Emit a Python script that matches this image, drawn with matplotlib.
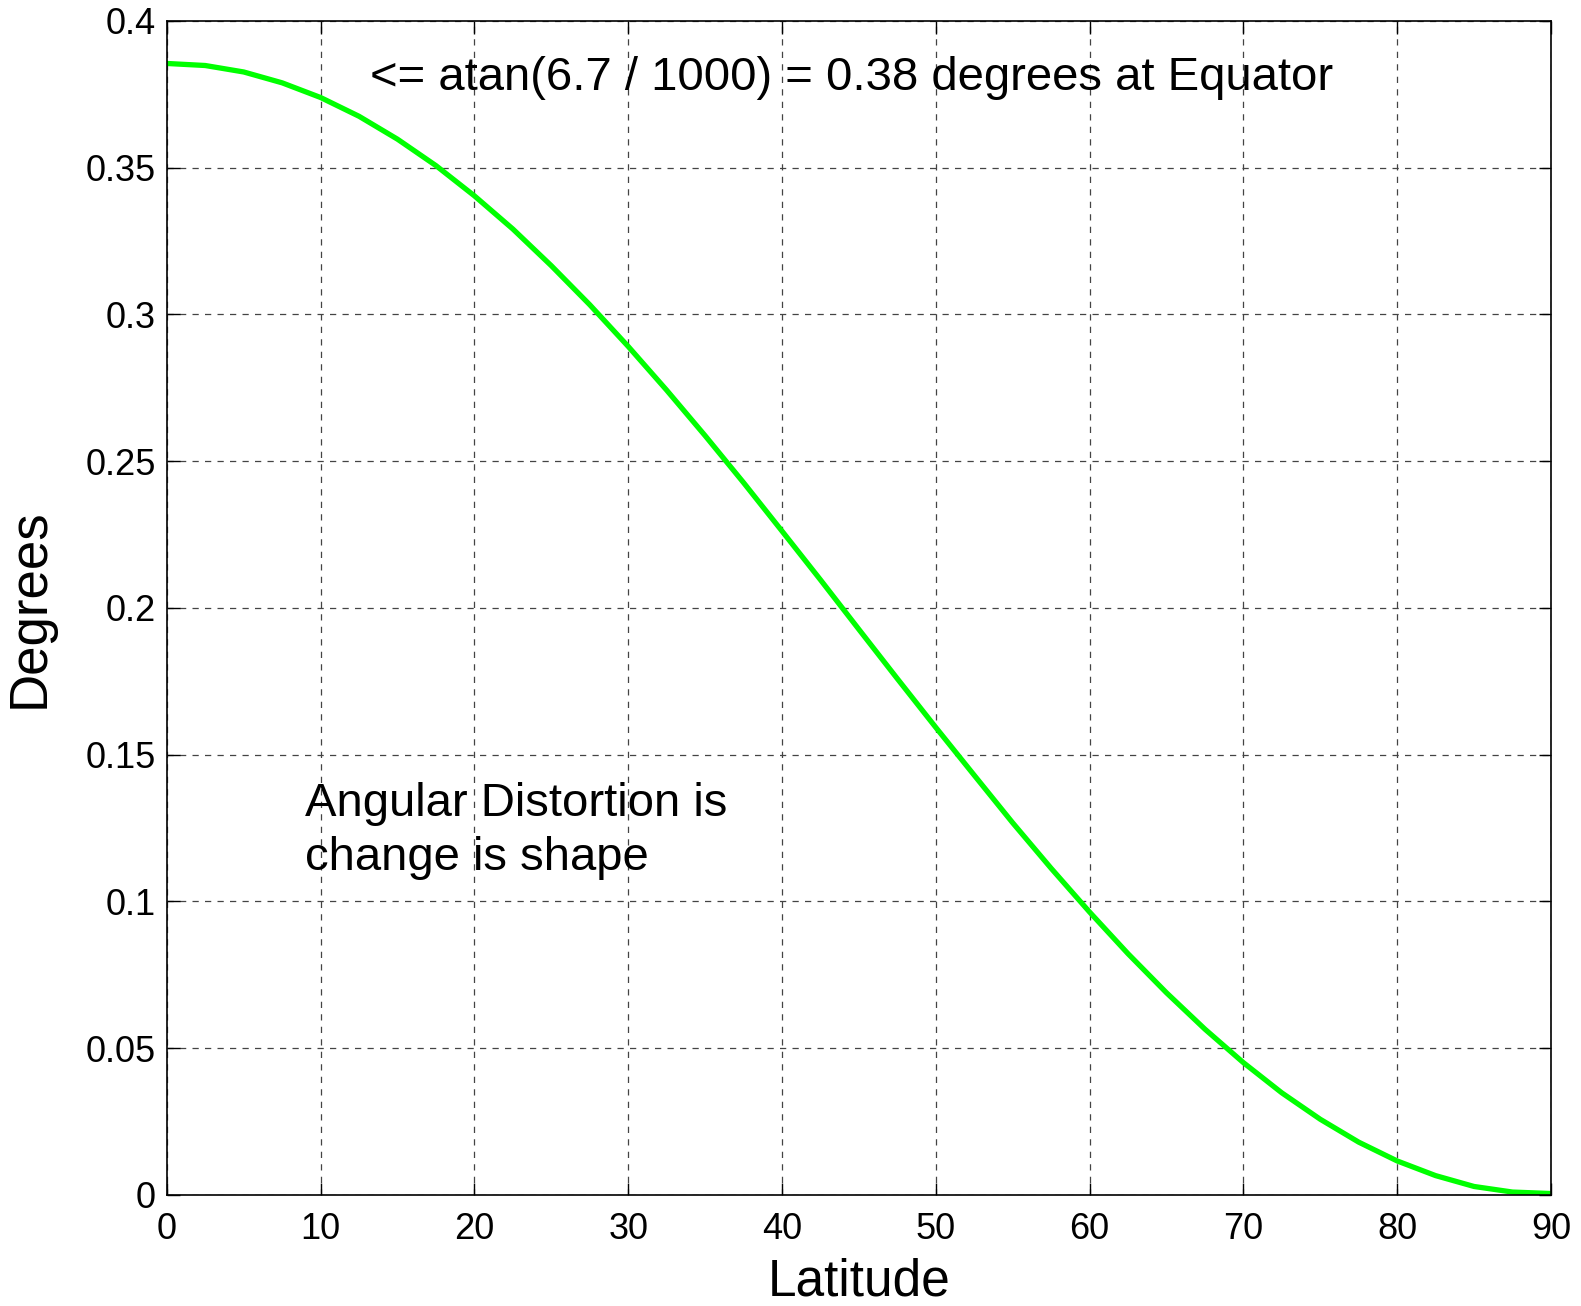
import matplotlib
matplotlib.use("Agg")
import matplotlib.pyplot as plt

plt.rcParams['font.family'] = ['Liberation Sans', 'DejaVu Sans']

# latitude (deg) and angular distortion (deg)
lat = [0, 2.5, 5, 7.5, 10, 12.5, 15, 17.5, 20, 22.5, 25, 27.5, 30, 32.5, 35, 37.5,
       40, 42.5, 45, 47.5, 50, 52.5, 55, 57.5, 60, 62.5, 65, 67.5, 70, 72.5, 75,
       77.5, 80, 82.5, 85, 87.5, 90]
distortion = [0.3855, 0.3848, 0.3826, 0.3789, 0.3739, 0.3675, 0.3597, 0.3507, 0.3404,
              0.3291, 0.3166, 0.3033, 0.2891, 0.2742, 0.2587, 0.2427, 0.2262, 0.2096,
              0.1927, 0.1759, 0.1593, 0.1430, 0.1268, 0.1113, 0.0964, 0.0822, 0.0689,
              0.0565, 0.0451, 0.0348, 0.0258, 0.0180, 0.0116, 0.0066, 0.0029, 0.0010,
              0.0005]

xticks = [0, 10, 20, 30, 40, 50, 60, 70, 80, 90]
yticks = [0, 0.05, 0.1, 0.15, 0.2, 0.25, 0.3, 0.35, 0.4]
ytick_labels = ['0', '0.05', '0.1', '0.15', '0.2', '0.25', '0.3', '0.35', '0.4']

title = 'Maximum Angular Distortion (Degrees)'
note_top = '<= atan(6.7 / 1000) = 0.38 degrees at Equator'
note_mid = ['Angular Distortion is', 'change is shape']

fig = plt.figure(figsize=(15.81, 13.06), dpi=100)
ax = fig.add_axes([0.1055, 0.085, 0.8755, 0.899])

ax.plot(lat, distortion, color=(0, 1, 0), linewidth=3.8)

ax.set_xlim(0, 90)
ax.set_ylim(0, 0.4)
ax.set_xticks(xticks)
ax.set_yticks(yticks)
ax.set_yticklabels(ytick_labels)
ax.tick_params(direction='in', length=9, width=1, top=True, right=True, labelsize=26)
ax.tick_params(axis='x', pad=12)
ax.tick_params(axis='y', pad=8)
ax.grid(True, color='#444444', linestyle=(0, (5, 5)), linewidth=0.9)
for s in ax.spines.values():
    s.set_linewidth(1.2)

ax.set_xlabel('Latitude', fontsize=37, labelpad=8)
ax.set_ylabel('Degrees', fontsize=38, labelpad=22)

# title sits almost entirely above the canvas, as in the reference
fig.text(0.543, 1.0095, title, fontsize=35, ha='center', va='baseline')

ax.text(13.2, 0.3766, note_top, fontsize=34, ha='left', va='baseline')
ax.text(8.97, 0.1292, note_mid[0], fontsize=34, ha='left', va='baseline')
ax.text(8.97, 0.1107, note_mid[1], fontsize=34, ha='left', va='baseline')

fig.savefig('out.png', dpi=100)
